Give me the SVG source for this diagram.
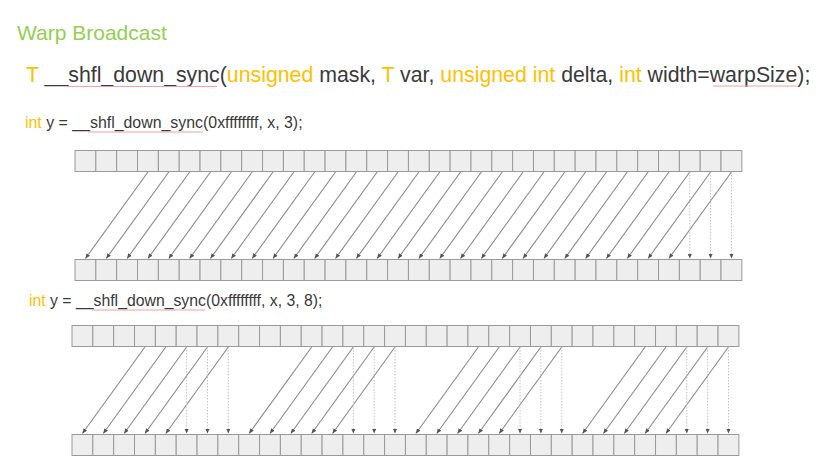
<svg xmlns="http://www.w3.org/2000/svg" xmlns:xlink="http://www.w3.org/1999/xlink" width="819" height="459" viewBox="0 0 819 459">
<style>
.t{font-family:"Liberation Sans","DejaVu Sans",sans-serif;fill:#3a3a3a}
.k{fill:#ffc000}
.cell{fill:#eeeeee;stroke:#9a9a9a;stroke-width:1}
.a{stroke:#8a8a8a;stroke-width:1.1;fill:none;marker-end:url(#ah)}
.d{stroke:#c4c4c4;stroke-width:1;stroke-dasharray:1.5 1.5;fill:none;marker-end:url(#ah)}
.sq{stroke:#f2a0a0;stroke-width:1;fill:none}
</style>
<defs>
<marker id="ah" markerUnits="userSpaceOnUse" markerWidth="6" markerHeight="5" refX="5" refY="2.2" orient="auto">
<path d="M0,0 L5,2.2 L0,4.4 z" fill="#555"/>
</marker>
<g id="row">
<rect class="cell" x="0" y="0" width="20.84" height="21"/>
<rect class="cell" x="20.84" y="0" width="20.84" height="21"/>
<rect class="cell" x="41.68" y="0" width="20.84" height="21"/>
<rect class="cell" x="62.52" y="0" width="20.84" height="21"/>
<rect class="cell" x="83.36" y="0" width="20.84" height="21"/>
<rect class="cell" x="104.2" y="0" width="20.84" height="21"/>
<rect class="cell" x="125.04" y="0" width="20.84" height="21"/>
<rect class="cell" x="145.88" y="0" width="20.84" height="21"/>
<rect class="cell" x="166.72" y="0" width="20.84" height="21"/>
<rect class="cell" x="187.56" y="0" width="20.84" height="21"/>
<rect class="cell" x="208.4" y="0" width="20.84" height="21"/>
<rect class="cell" x="229.24" y="0" width="20.84" height="21"/>
<rect class="cell" x="250.08" y="0" width="20.84" height="21"/>
<rect class="cell" x="270.92" y="0" width="20.84" height="21"/>
<rect class="cell" x="291.76" y="0" width="20.84" height="21"/>
<rect class="cell" x="312.6" y="0" width="20.84" height="21"/>
<rect class="cell" x="333.44" y="0" width="20.84" height="21"/>
<rect class="cell" x="354.28" y="0" width="20.84" height="21"/>
<rect class="cell" x="375.12" y="0" width="20.84" height="21"/>
<rect class="cell" x="395.96" y="0" width="20.84" height="21"/>
<rect class="cell" x="416.8" y="0" width="20.84" height="21"/>
<rect class="cell" x="437.64" y="0" width="20.84" height="21"/>
<rect class="cell" x="458.48" y="0" width="20.84" height="21"/>
<rect class="cell" x="479.32" y="0" width="20.84" height="21"/>
<rect class="cell" x="500.16" y="0" width="20.84" height="21"/>
<rect class="cell" x="521" y="0" width="20.84" height="21"/>
<rect class="cell" x="541.84" y="0" width="20.84" height="21"/>
<rect class="cell" x="562.68" y="0" width="20.84" height="21"/>
<rect class="cell" x="583.52" y="0" width="20.84" height="21"/>
<rect class="cell" x="604.36" y="0" width="20.84" height="21"/>
<rect class="cell" x="625.2" y="0" width="20.84" height="21"/>
<rect class="cell" x="646.04" y="0" width="20.84" height="21"/>
</g>
</defs>
<rect width="819" height="459" fill="#ffffff"/>

<g id="title">
<text class="t" x="17" y="40" font-size="21" style="fill:#92d050">Warp Broadcast</text>
</g>
<g id="signature">
<text class="t" x="26" y="82" font-size="21.3"><tspan class="k">T</tspan> __shfl_down_sync(<tspan class="k">unsigned</tspan> mask, <tspan class="k">T</tspan> var, <tspan class="k">unsigned int</tspan> delta, <tspan class="k">int</tspan> width=warpSize);</text>
<path class="sq" d="M67,86.5 L217,86.5 M713,86 L797,86"/>
</g>
<g id="code1">
<text class="t" x="25" y="128" font-size="15.9"><tspan class="k">int</tspan> y = __shfl_down_sync(0xffffffff, x, 3);</text>
<path class="sq" d="M88,132 L203,132"/>
</g>
<g id="code2">
<text class="t" x="29" y="306" font-size="15.8"><tspan class="k">int</tspan> y = __shfl_down_sync(0xffffffff, x, 3, 8);</text>
<path class="sq" d="M92,310 L205,310"/>
</g>

<g id="row1-src"><use xlink:href="#row" href="#row" x="75" y="150.5"/></g>
<g id="row1-dst"><use xlink:href="#row" href="#row" x="75" y="259.5"/></g>
<g id="row2-src"><use xlink:href="#row" href="#row" x="72" y="325.5"/></g>
<g id="row2-dst"><use xlink:href="#row" href="#row" x="72" y="434.5"/></g>

<g id="connectors">
<g id="conn1">
<line class="a" x1="147.94" y1="172" x2="85.42" y2="258.5"/>
<line class="a" x1="168.78" y1="172" x2="106.26" y2="258.5"/>
<line class="a" x1="189.62" y1="172" x2="127.1" y2="258.5"/>
<line class="a" x1="210.46" y1="172" x2="147.94" y2="258.5"/>
<line class="a" x1="231.3" y1="172" x2="168.78" y2="258.5"/>
<line class="a" x1="252.14" y1="172" x2="189.62" y2="258.5"/>
<line class="a" x1="272.98" y1="172" x2="210.46" y2="258.5"/>
<line class="a" x1="293.82" y1="172" x2="231.3" y2="258.5"/>
<line class="a" x1="314.66" y1="172" x2="252.14" y2="258.5"/>
<line class="a" x1="335.5" y1="172" x2="272.98" y2="258.5"/>
<line class="a" x1="356.34" y1="172" x2="293.82" y2="258.5"/>
<line class="a" x1="377.18" y1="172" x2="314.66" y2="258.5"/>
<line class="a" x1="398.02" y1="172" x2="335.5" y2="258.5"/>
<line class="a" x1="418.86" y1="172" x2="356.34" y2="258.5"/>
<line class="a" x1="439.7" y1="172" x2="377.18" y2="258.5"/>
<line class="a" x1="460.54" y1="172" x2="398.02" y2="258.5"/>
<line class="a" x1="481.38" y1="172" x2="418.86" y2="258.5"/>
<line class="a" x1="502.22" y1="172" x2="439.7" y2="258.5"/>
<line class="a" x1="523.06" y1="172" x2="460.54" y2="258.5"/>
<line class="a" x1="543.9" y1="172" x2="481.38" y2="258.5"/>
<line class="a" x1="564.74" y1="172" x2="502.22" y2="258.5"/>
<line class="a" x1="585.58" y1="172" x2="523.06" y2="258.5"/>
<line class="a" x1="606.42" y1="172" x2="543.9" y2="258.5"/>
<line class="a" x1="627.26" y1="172" x2="564.74" y2="258.5"/>
<line class="a" x1="648.1" y1="172" x2="585.58" y2="258.5"/>
<line class="a" x1="668.94" y1="172" x2="606.42" y2="258.5"/>
<line class="a" x1="689.78" y1="172" x2="627.26" y2="258.5"/>
<line class="a" x1="710.62" y1="172" x2="648.1" y2="258.5"/>
<line class="a" x1="731.46" y1="172" x2="668.94" y2="258.5"/>
<line class="d" x1="689.78" y1="172" x2="689.78" y2="258.5"/>
<line class="d" x1="710.62" y1="172" x2="710.62" y2="258.5"/>
<line class="d" x1="731.46" y1="172" x2="731.46" y2="258.5"/>
</g>
<g id="conn2">
<line class="a" x1="144.94" y1="347" x2="82.42" y2="433.5"/>
<line class="a" x1="165.78" y1="347" x2="103.26" y2="433.5"/>
<line class="a" x1="186.62" y1="347" x2="124.1" y2="433.5"/>
<line class="a" x1="207.46" y1="347" x2="144.94" y2="433.5"/>
<line class="a" x1="228.3" y1="347" x2="165.78" y2="433.5"/>
<line class="d" x1="186.62" y1="347" x2="186.62" y2="433.5"/>
<line class="d" x1="207.46" y1="347" x2="207.46" y2="433.5"/>
<line class="d" x1="228.3" y1="347" x2="228.3" y2="433.5"/>
<line class="a" x1="311.66" y1="347" x2="249.14" y2="433.5"/>
<line class="a" x1="332.5" y1="347" x2="269.98" y2="433.5"/>
<line class="a" x1="353.34" y1="347" x2="290.82" y2="433.5"/>
<line class="a" x1="374.18" y1="347" x2="311.66" y2="433.5"/>
<line class="a" x1="395.02" y1="347" x2="332.5" y2="433.5"/>
<line class="d" x1="353.34" y1="347" x2="353.34" y2="433.5"/>
<line class="d" x1="374.18" y1="347" x2="374.18" y2="433.5"/>
<line class="d" x1="395.02" y1="347" x2="395.02" y2="433.5"/>
<line class="a" x1="478.38" y1="347" x2="415.86" y2="433.5"/>
<line class="a" x1="499.22" y1="347" x2="436.7" y2="433.5"/>
<line class="a" x1="520.06" y1="347" x2="457.54" y2="433.5"/>
<line class="a" x1="540.9" y1="347" x2="478.38" y2="433.5"/>
<line class="a" x1="561.74" y1="347" x2="499.22" y2="433.5"/>
<line class="d" x1="520.06" y1="347" x2="520.06" y2="433.5"/>
<line class="d" x1="540.9" y1="347" x2="540.9" y2="433.5"/>
<line class="d" x1="561.74" y1="347" x2="561.74" y2="433.5"/>
<line class="a" x1="645.1" y1="347" x2="582.58" y2="433.5"/>
<line class="a" x1="665.94" y1="347" x2="603.42" y2="433.5"/>
<line class="a" x1="686.78" y1="347" x2="624.26" y2="433.5"/>
<line class="a" x1="707.62" y1="347" x2="645.1" y2="433.5"/>
<line class="a" x1="728.46" y1="347" x2="665.94" y2="433.5"/>
<line class="d" x1="686.78" y1="347" x2="686.78" y2="433.5"/>
<line class="d" x1="707.62" y1="347" x2="707.62" y2="433.5"/>
<line class="d" x1="728.46" y1="347" x2="728.46" y2="433.5"/>
</g>
</g>
</svg>
